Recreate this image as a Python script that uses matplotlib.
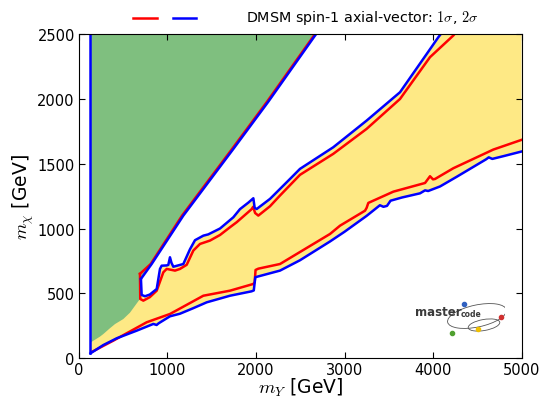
import matplotlib
matplotlib.use("Agg")
import matplotlib.pyplot as plt
from matplotlib.lines import Line2D
from matplotlib.patches import Ellipse

plt.rcParams["mathtext.fontset"] = "cm"

# contour readings (m_Y [GeV], m_chi [GeV])
lower_blue_x = [130, 275, 426, 652, 840, 877, 900, 1028, 1141, 1292, 1443, 1706, 1950, 1975,
                1992, 2271, 2497, 2836, 3000, 3250, 3400, 3440, 3480, 3520, 3650, 3853, 3910,
                3945, 4079, 4268, 4600, 4630, 4670, 4800, 5000]
lower_blue_y = [36, 100, 152, 211, 263, 255, 268, 322, 342, 385, 430, 481, 515, 522,
                624, 675, 755, 900, 975, 1098, 1180, 1168, 1175, 1215, 1240, 1272, 1295,
                1290, 1325, 1400, 1535, 1550, 1538, 1560, 1595]

lower_red_x = [140, 388, 765, 1028, 1405, 1706, 1970, 1985, 1995, 2026, 2271, 2836, 2949,
               3232, 3250, 3269, 3552, 3910, 3966, 4000, 4023, 4230, 4681, 5000]
lower_red_y = [45, 134, 276, 340, 481, 520, 572, 585, 680, 690, 726, 958, 1022,
               1138, 1160, 1198, 1285, 1352, 1404, 1380, 1383, 1466, 1610, 1685]

upper_blue_x = [700, 708, 746, 800, 878, 915, 934, 990, 1009, 1028, 1045, 1066, 1179, 1254,
                1311, 1405, 1461, 1593, 1744, 1819, 1913, 1970, 1985, 2008, 2158, 2271,
                2384, 2497, 2873, 3250, 3627, 3929, 4060, 4085]
upper_blue_y = [611, 487, 477, 490, 533, 688, 713, 715, 719, 778, 735, 705, 726, 840,
                910, 945, 955, 1000, 1087, 1150, 1200, 1234, 1160, 1151, 1229, 1306,
                1383, 1461, 1628, 1834, 2053, 2349, 2478, 2500]

upper_red_x = [689, 692, 727, 800, 878, 953, 991, 1085, 1141, 1217, 1292, 1367, 1480, 1593,
               1706, 1782, 1951, 1968, 1990, 2026, 2158, 2271, 2497, 2873, 3250, 3627,
               3966, 4229, 4240]
upper_red_y = [650, 456, 443, 470, 520, 662, 688, 675, 688, 720, 830, 881, 907, 950,
               1010, 1049, 1150, 1168, 1120, 1100, 1172, 1255, 1415, 1577, 1770, 2001,
               2324, 2491, 2500]

diag_blue_x = [700, 821, 1179, 1744, 2139, 2667, 2700]
diag_blue_y = [611, 726, 1100, 1615, 1980, 2491, 2520]
diag_red_x = [689, 810, 1165, 1730, 2125, 2655, 2690]
diag_red_y = [650, 726, 1100, 1615, 1980, 2491, 2525]

# green / yellow boundary below the diagonal
green_edge_x = [689, 576, 501, 407, 350, 275, 237, 143, 130]
green_edge_y = [456, 350, 301, 262, 230, 185, 165, 125, 120]

wall_x = [130, 130]
wall_y = [2500, 36]

fig = plt.figure(figsize=(5.41, 4.02), dpi=100)
ax = fig.add_axes([0.146, 0.107, 0.818, 0.805])

# yellow band (2 sigma region)
yx = lower_blue_x + [5000, upper_blue_x[-1]] + upper_blue_x[::-1] + [130]
yy = lower_blue_y + [2500, 2500] + upper_blue_y[::-1] + [611]
ax.fill(yx, yy, color="#fee985", lw=0)

# green region
gx = [130, diag_blue_x[-1]] + diag_blue_x[::-1] + [689] + green_edge_x
gy = [2500, diag_blue_y[-1]] + diag_blue_y[::-1] + [600] + green_edge_y
ax.fill(gx, gy, color="#7fbf7f", lw=0)

lw = 1.8
ax.plot(lower_red_x, lower_red_y, color="red", lw=lw)
ax.plot(upper_red_x, upper_red_y, color="red", lw=lw)
ax.plot(diag_red_x, diag_red_y, color="red", lw=lw)
ax.plot(lower_blue_x, lower_blue_y, color="blue", lw=lw)
ax.plot(upper_blue_x, upper_blue_y, color="blue", lw=lw)
ax.plot(diag_blue_x, diag_blue_y, color="blue", lw=lw)
ax.plot(wall_x, wall_y, color="blue", lw=lw)

ax.set_xlim(0, 5000)
ax.set_ylim(0, 2500)
ax.set_xticks([0, 1000, 2000, 3000, 4000, 5000])
ax.set_yticks([0, 500, 1000, 1500, 2000, 2500])
ax.tick_params(direction="in", top=True, right=True, length=4, labelsize=10.5, pad=3)
ax.set_xlabel(r"$m_Y$ [GeV]", fontsize=13.5, labelpad=-1)
ax.set_ylabel(r"$m_\chi$ [GeV]", fontsize=13.5, labelpad=1)

# legend above the frame
fig.add_artist(Line2D([0.246, 0.290], [0.953, 0.953], color="red", lw=lw))
fig.add_artist(Line2D([0.320, 0.362], [0.953, 0.953], color="blue", lw=lw))
fig.text(0.455, 0.955, r"DMSM spin-1 axial-vector: $1\sigma$, $2\sigma$",
         fontsize=10.3, va="center", ha="left")

# MasterCode logo
lg = fig.add_axes([405 / 541, 1 - 340 / 402, 100 / 541, 45 / 402])
lg.set_xlim(0, 100)
lg.set_ylim(45, 0)
lg.axis("off")
lg.add_patch(Ellipse((72, 22), 60, 22, angle=-12, fill=False, ec="#555555", lw=0.6))
lg.add_patch(Ellipse((79, 31), 32, 11, angle=-10, fill=False, ec="#555555", lw=0.6))
lg.text(10, 18, "master", fontsize=8.5, fontweight="bold", color="#3a3a3a",
        va="center", ha="left", family="DejaVu Sans")
lg.text(56, 19.5, "code", fontsize=5.5, fontweight="bold", color="#3a3a3a",
        va="center", ha="left", family="DejaVu Sans")
lg.plot([59], [10], "o", color="#3060c0", ms=3)
lg.plot([96], [23], "o", color="#d03030", ms=3)
lg.plot([47], [39], "o", color="#50a030", ms=3)
lg.plot([73], [35], "o", color="#f0c000", ms=3)

fig.savefig("out.png", dpi=100)
